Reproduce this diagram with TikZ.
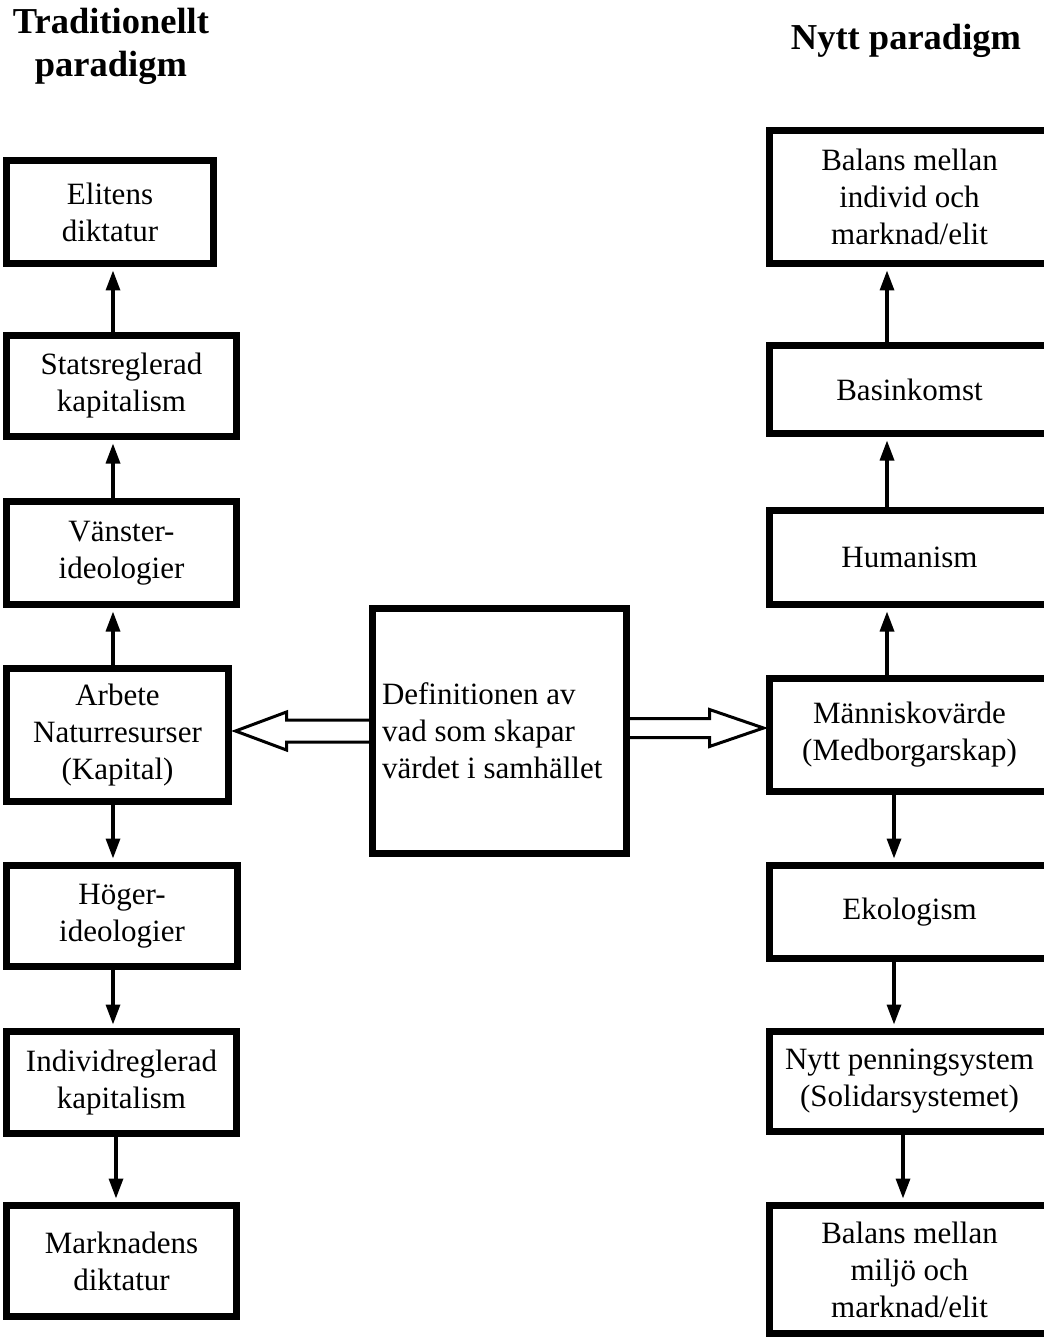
\documentclass[tikz,border=0pt]{standalone}
\usepackage{fontspec}
\setmainfont{Liberation Serif}
\usetikzlibrary{arrows.meta,calc}
\begin{document}
\begin{tikzpicture}[x=1pt,y=-1pt,
  box/.style={draw, line width=7pt, inner sep=0pt, align=center,
    font=\fontsize{31}{37}\selectfont},
  rbox/.style={box, minimum width=280pt},
  link/.style={line width=3.3pt, -{Triangle[length=20pt,width=14pt]}, shorten >=3.5pt},
  hollow/.style={line width=3pt, line join=miter, miter limit=10},
  title/.style={font=\bfseries\fontsize{36.5}{43}\selectfont, align=center, inner sep=0pt}]
\useasboundingbox (0,0) rectangle (1043,1337);

% titles
\node[title] (T1) at (111,46) {Traditionellt\\paradigm};
\node[title, anchor=base] (T2) at (906,50) {Nytt paradigm};

% left column
\node[box, minimum width=207pt, minimum height=103pt] (A1) at (110,212) {Elitens\\diktatur};
\node[box, minimum width=230pt, minimum height=101pt] (A2) at (121.5,386) {Statsreglerad\\kapitalism};
\node[box, minimum width=230pt, minimum height=103pt] (A3) at (121.5,553) {Vänster-\\ideologier};
\node[box, minimum width=222pt, minimum height=133pt] (A4) at (117.5,735) {Arbete\\Naturresurser\\(Kapital)};
\node[box, minimum width=231pt, minimum height=101pt] (A5) at (122,916) {Höger-\\ideologier};
\node[box, minimum width=230pt, minimum height=102pt] (A6) at (121.5,1082.5) {Individreglerad\\kapitalism};
\node[box, minimum width=230pt, minimum height=111pt] (A7) at (121.5,1261) {Marknadens\\diktatur};

% centre
\node[box, minimum width=254pt, minimum height=245pt, inner xsep=9.5pt,
      text width=235pt, align=flush left] (C) at (499.5,731)
  {Definitionen av\\vad som skapar\\värdet i samhället};

% right column
\node[rbox, minimum height=133pt] (B1) at (909.5,197) {Balans mellan\\individ och\\marknad/elit};
\node[rbox, minimum height=88pt] (B2) at (909.5,389.5) {Basinkomst};
\node[rbox, minimum height=94pt] (B3) at (909.5,557.5) {Humanism};
\node[rbox, minimum height=113pt] (B4) at (909.5,735) {Människovärde\\(Medborgarskap)};
\node[rbox, minimum height=93pt] (B5) at (909.5,912) {Ekologism};
\node[rbox, minimum height=100pt] (B6) at (909.5,1081.5) {Nytt penningsystem\\(Solidarsystemet)};
\node[rbox, minimum height=128pt] (B7) at (909.5,1269.5) {Balans mellan\\miljö och\\marknad/elit};

% column x positions
\coordinate (LX) at (113,0);
\coordinate (LY) at (116,0);
\coordinate (RU) at (887,0);
\coordinate (RD) at (894,0);
\coordinate (RE) at (903,0);

% left arrows
\draw[link] (A2.north -| LX) -- (A1.south -| LX);
\draw[link] (A3.north -| LX) -- (A2.south -| LX);
\draw[link] (A4.north -| LX) -- (A3.south -| LX);
\draw[link] (A4.south -| LX) -- (A5.north -| LX);
\draw[link] (A5.south -| LX) -- (A6.north -| LX);
\draw[link] (A6.south -| LY) -- (A7.north -| LY);

% right arrows
\draw[link] (B2.north -| RU) -- (B1.south -| RU);
\draw[link] (B3.north -| RU) -- (B2.south -| RU);
\draw[link] (B4.north -| RU) -- (B3.south -| RU);
\draw[link] (B4.south -| RD) -- (B5.north -| RD);
\draw[link] (B5.south -| RD) -- (B6.north -| RD);
\draw[link] (B6.south -| RE) -- (B7.north -| RE);

% hollow arrows
\draw[hollow] let \p1=(A4.east), \p2=(C.west) in
  (\x2,\y2+11pt) -- (\x1+54.5pt,\y2+11pt) -- (\x1+54.5pt,\y2+19pt)
  -- (\x1+3.5pt,\y2) -- (\x1+54.5pt,\y2-19pt) -- (\x1+54.5pt,\y2-11pt) -- (\x2,\y2-11pt);
\draw[hollow] let \p1=(C.east), \p2=(B4.west) in
  (\x1,\y1+12.5pt) -- (\x2-56.5pt,\y1+12.5pt) -- (\x2-56.5pt,\y1+21.5pt)
  -- (\x2-2.5pt,\y1+3pt) -- (\x2-56.5pt,\y1-15.5pt) -- (\x2-56.5pt,\y1-6.5pt) -- (\x1,\y1-6.5pt);
\end{tikzpicture}
\end{document}
